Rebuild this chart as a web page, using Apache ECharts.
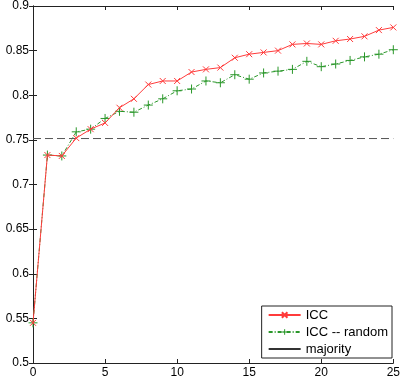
<!DOCTYPE html>
<html><head><meta charset="utf-8">
<script src="https://cdn.jsdelivr.net/npm/echarts@6/dist/echarts.min.js"></script>
<style>html,body{margin:0;padding:0;background:#fff}#c{width:403px;height:382px}</style>
</head><body><div id="c"></div>
<script>
const xValues = [0,1,2,3,4,5,6,7,8,9,10,11,12,13,14,15,16,17,18,19,20,21,22,23,24,25];
const icc = [0.545,0.733,0.732,0.752,0.762,0.769,0.786,0.796,0.812,0.816,0.816,0.826,0.829,0.831,0.842,0.846,0.848,0.850,0.857,0.858,0.857,0.861,0.863,0.866,0.873,0.876];
const iccRandom = [0.545,0.733,0.732,0.759,0.762,0.774,0.782,0.781,0.789,0.796,0.805,0.807,0.816,0.814,0.823,0.818,0.825,0.827,0.829,0.838,0.832,0.835,0.839,0.843,0.846,0.851];
const majority = 0.7515;
const yTicks = [0.5,0.55,0.6,0.65,0.7,0.75,0.8,0.85,0.9];

const font = 'Liberation Sans, Arial, sans-serif';
const chart = echarts.init(document.getElementById('c'));
const axisCommon = {
  axisLine:{show:true,lineStyle:{color:'#222',width:1}},
  axisTick:{show:true,inside:true,length:4,lineStyle:{color:'#222'}},
  splitLine:{show:false}
};
const redC = '#ff3b3b', greenC = '#2a972a';
chart.setOption({
  animation:false,
  grid:{left:33,right:5,top:5,bottom:19},
  xAxis:[
    Object.assign({type:'value',min:0,max:25,interval:5,position:'bottom',
      axisLabel:{color:'#000',fontSize:12,fontFamily:font,margin:4}},axisCommon),
    Object.assign({type:'value',min:0,max:25,interval:5,position:'top',
      axisLabel:{show:false}},axisCommon)
  ],
  yAxis:[
    Object.assign({type:'value',min:0.5,max:0.9,interval:0.05,position:'left',
      axisLabel:{color:'#000',fontSize:12,fontFamily:font,margin:4,
        formatter:v=>String(parseFloat(v.toFixed(2)))}},axisCommon),
    Object.assign({type:'value',min:0.5,max:0.9,interval:0.05,position:'right',
      axisLabel:{show:false}},axisCommon)
  ],
  legend:{
    right:11,bottom:24,orient:'vertical',
    backgroundColor:'#fff',borderColor:'#222',borderWidth:1,borderRadius:0,
    padding:[2,4,2,6],itemGap:3,itemWidth:32,itemHeight:7,
    textStyle:{fontSize:13,fontFamily:font,color:'#000',lineHeight:14,padding:[0,0,0,0]},
    data:[
      {name:'ICC'},
      {name:'ICC -- random',itemStyle:{borderWidth:1}},
      {name:'majority',lineStyle:{type:'solid',color:'#333'},itemStyle:{color:'rgba(0,0,0,0)',borderWidth:0,opacity:0}}
    ]
  },
  series:[
    {name:'majority',type:'line',xAxisIndex:0,yAxisIndex:0,
      data:[[0,majority],[25,majority]],symbol:'none',
      lineStyle:{color:'#555',width:1,type:[8,4]},itemStyle:{color:'#333'},z:1},
    {name:'ICC -- random',type:'line',xAxisIndex:0,yAxisIndex:0,
      data:xValues.map((x,i)=>[x,iccRandom[i]]),
      symbol:'path://M5,0L5,10M0,5L10,5',symbolSize:9,
      itemStyle:{color:greenC,borderColor:greenC,borderWidth:1},
      lineStyle:{color:greenC,width:1,type:[4,2,1,2]},z:2},
    {name:'ICC',type:'line',xAxisIndex:0,yAxisIndex:0,
      data:xValues.map((x,i)=>[x,icc[i]]),
      symbol:'path://M0,0L10,10M10,0L0,10',symbolSize:6,
      itemStyle:{color:redC,borderColor:redC,borderWidth:1},
      lineStyle:{color:redC,width:1},z:3}
  ]
});
</script></body></html>
